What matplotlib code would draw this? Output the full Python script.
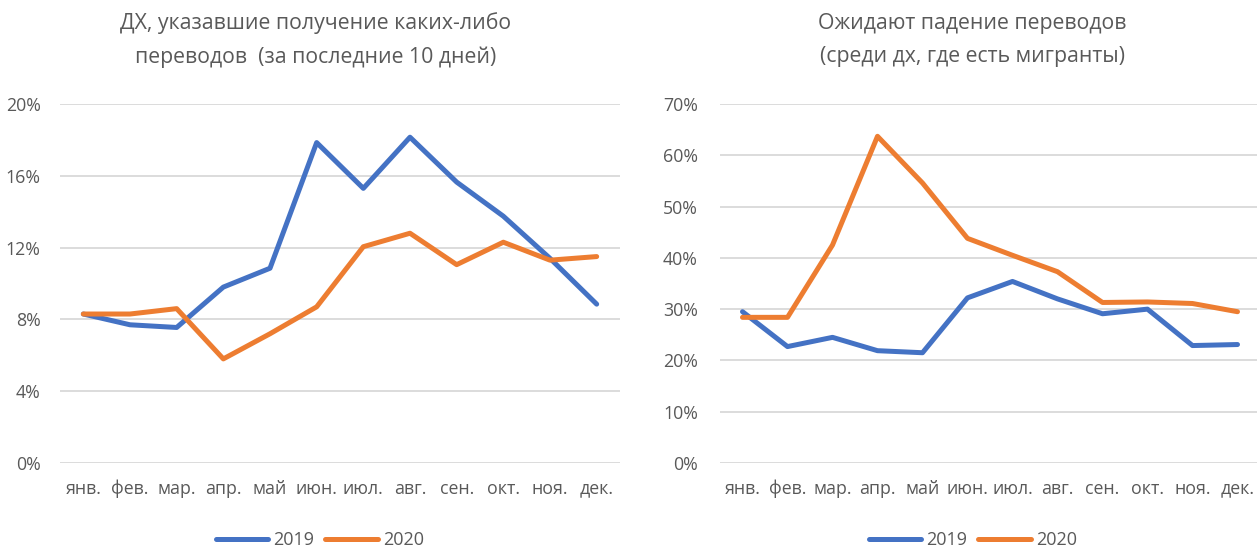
import matplotlib
matplotlib.use("Agg")
import matplotlib.pyplot as plt
from matplotlib.ticker import FuncFormatter, MultipleLocator

plt.rcParams['font.family'] = ['Open Sans', 'DejaVu Sans']

months = ["янв.", "фев.", "мар.", "апр.", "май", "июн.", "июл.", "авг.", "сен.", "окт.", "ноя.", "дек."]

left_2019 = [8.3, 7.7, 7.55, 9.8, 10.85, 17.85, 15.3, 18.15, 15.65, 13.75, 11.4, 8.85]
left_2020 = [8.3, 8.3, 8.6, 5.8, 7.2, 8.7, 12.05, 12.8, 11.05, 12.3, 11.3, 11.5]

right_2019 = [29.5, 22.7, 24.5, 21.9, 21.5, 32.2, 35.4, 32.0, 29.1, 30.0, 22.9, 23.1]
right_2020 = [28.4, 28.4, 42.5, 63.7, 54.6, 43.8, 40.5, 37.3, 31.3, 31.4, 31.1, 29.5]

left_title = "ДХ, указавшие получение каких-либо\nпереводов  (за последние 10 дней)"
right_title = "Ожидают падение переводов\n(среди дх, где есть мигранты)"
series_names = ["2019", "2020"]

BLUE = "#4472C4"
ORANGE = "#ED7D31"
GRID = "#D9D9D9"
TEXT = "#595959"

W, H = 1257, 548
fig = plt.figure(figsize=(W / 100, H / 100), dpi=100)

def px_axes(x0, x1, ybot, ytop):
    return fig.add_axes([x0 / W, (H - ybot) / H, (x1 - x0) / W, (ybot - ytop) / H])

def style(ax, ymax, step, ypad):
    for s in ax.spines.values():
        s.set_visible(False)
    ax.set_xlim(-0.5, 11.5)
    ax.set_ylim(0, ymax)
    ax.yaxis.set_major_locator(MultipleLocator(step))
    ax.yaxis.set_major_formatter(FuncFormatter(lambda v, p: f"{v:.0f}%"))
    ax.grid(axis='y', color=GRID, linewidth=1.3)
    ax.set_axisbelow(True)
    ax.set_xticks(range(len(months)))
    ax.set_xticklabels(months)
    ax.tick_params(axis='both', length=0, labelsize=12.8, colors=TEXT)
    ax.tick_params(axis='x', pad=12)
    ax.tick_params(axis='y', pad=ypad)

kw = dict(lw=3.6, solid_capstyle='round', solid_joinstyle='round')
x = range(len(months))

axL = px_axes(60, 620, 463, 104)
l1, = axL.plot(x, left_2019, color=BLUE, label=series_names[0], **kw)
l2, = axL.plot(x, left_2020, color=ORANGE, label=series_names[1], **kw)
style(axL, 20, 4, 14)

axR = px_axes(720, 1260, 463, 104)
axR.plot(x, right_2019, color=BLUE, **kw)
axR.plot(x, right_2020, color=ORANGE, **kw)
style(axR, 70, 10, 16)

fig.text(316 / W, 1 - 40 / H, left_title, ha='center', va='center', fontsize=15.3, color=TEXT, linespacing=1.72)
fig.text(972 / W, 1 - 40 / H, right_title, ha='center', va='center', fontsize=15.3, color=TEXT, linespacing=1.72)

for cx in (320, 973):
    fig.legend([l1, l2], series_names, loc='center', bbox_to_anchor=(cx / W, 1 - 540 / H),
               ncol=2, frameon=False, fontsize=13, handlelength=2.9, handletextpad=0.3,
               columnspacing=0.6, labelcolor=TEXT)

fig.savefig("out.png", dpi=100)
